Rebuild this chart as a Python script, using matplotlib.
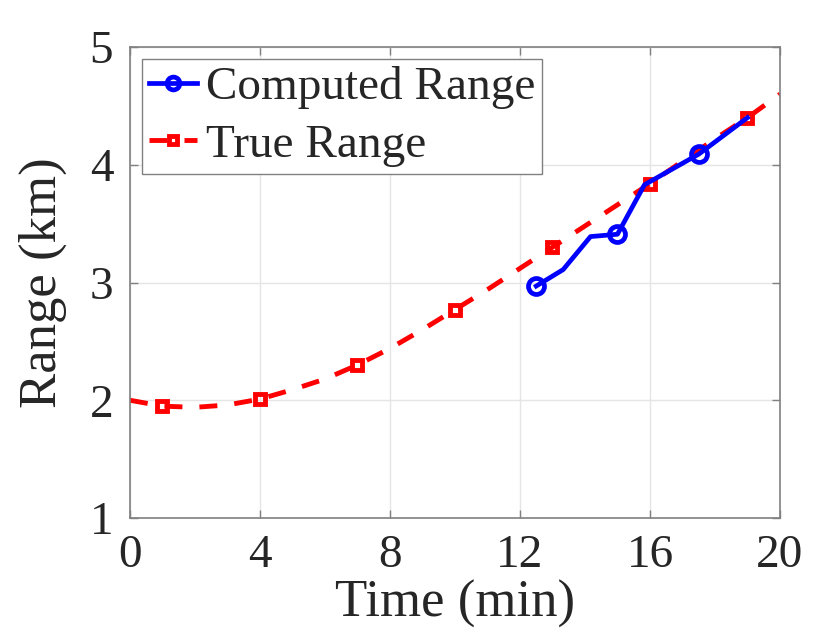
import matplotlib
matplotlib.use("Agg")
import matplotlib.pyplot as plt

# True range at every minute
true_t = [0, 1, 2, 3, 4, 5, 6, 7, 8, 9, 10, 11, 12, 13, 14, 15, 16, 17, 18, 19, 20]
true_r = [2.00, 1.95, 1.94, 1.96, 2.01, 2.09, 2.18, 2.30, 2.44, 2.60, 2.77,
          2.94, 3.12, 3.30, 3.48, 3.66, 3.84, 4.03, 4.22, 4.40, 4.60]
true_marks = [1, 4, 7, 10, 13, 16, 19]

# Computed range vertices
comp_t = [12.5, 13.33, 14.17, 15.0, 15.83, 17.5, 19.0]
comp_r = [2.97, 3.11, 3.39, 3.41, 3.83, 4.09, 4.40]
comp_marks = [0, 3, 5]

x_ticks = [0, 4, 8, 12, 16, 20]
y_ticks = [1, 2, 3, 4, 5]

plt.rcParams["font.family"] = ["Liberation Serif", "DejaVu Serif"]
plt.rcParams["text.color"] = "#262626"

fig = plt.figure(figsize=(8.31, 6.37), dpi=100)
ax = fig.add_axes([0.1564, 0.1868, 0.7822, 0.7394])

ax.plot(comp_t, comp_r, color="blue", lw=3.4, marker="o", ms=11.5,
        mfc="none", mew=3.4, markevery=comp_marks, label="Computed Range", zorder=3)
ax.plot(true_t, true_r, color="red", lw=3.5, ls=(0, (3.7, 3.5)), marker="s", ms=7.3,
        mfc="none", mew=3.5, markevery=true_marks, label="True Range", zorder=2)

ax.set_xlim(0, 20)
ax.set_ylim(1, 5)
ax.set_xticks(x_ticks)
ax.set_yticks(y_ticks)
ax.grid(True, color="#e5e5e5", lw=1)
ax.set_axisbelow(True)

for s in ax.spines.values():
    s.set_color("#808080")
    s.set_linewidth(1.2)
ax.tick_params(direction="in", length=6, width=1, color="#808080",
               top=True, right=True, labelsize=34, labelcolor="#262626", pad=12)

ax.set_xlabel("Time (min)", fontsize=38, labelpad=2, color="#262626")
ax.set_ylabel("Range (km)", fontsize=38, labelpad=16, color="#262626")

leg = ax.legend(loc="upper left", fontsize=34, handlelength=1.0,
                handletextpad=0.2, borderaxespad=0.26, borderpad=0.15,
                labelspacing=0.3, fancybox=False, framealpha=1)
leg.get_frame().set_edgecolor("#808080")
leg.get_frame().set_linewidth(1)
for h in leg.legend_handles:
    h.set_markersize(h.get_markersize() * 0.8)

fig.savefig("out.png", dpi=100)
